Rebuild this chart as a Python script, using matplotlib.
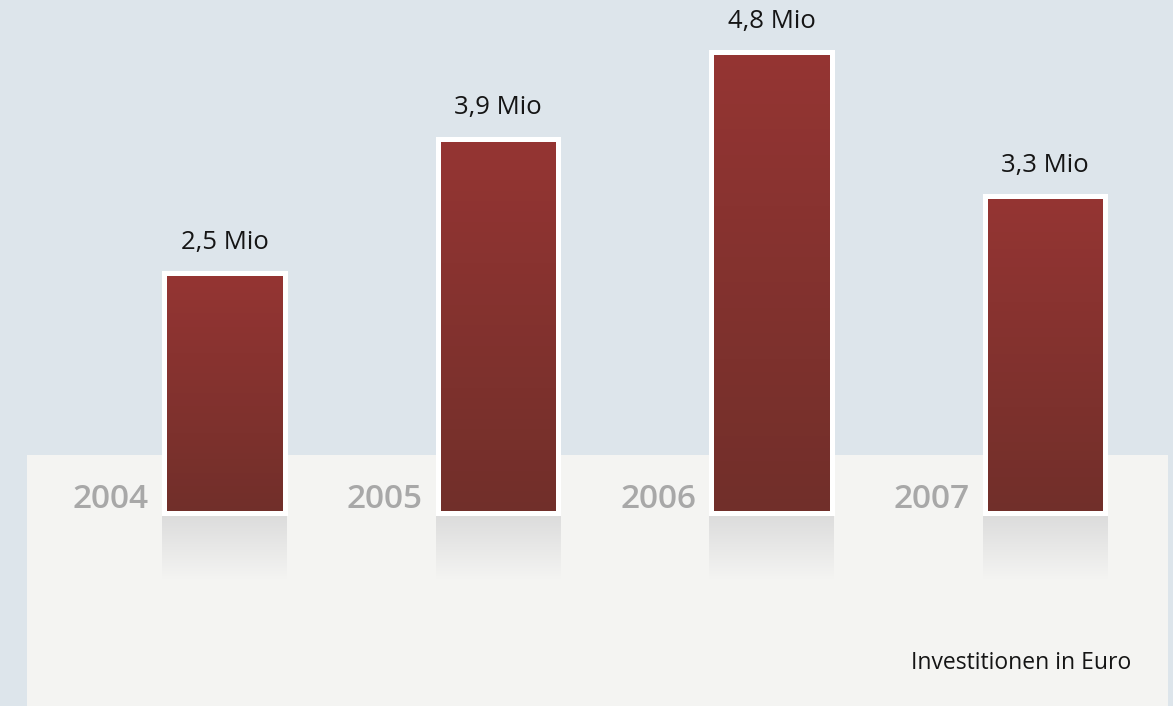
import numpy as np
import matplotlib
matplotlib.use('Agg')
from matplotlib import pyplot as plt
from matplotlib.patches import Rectangle
from matplotlib.colors import LinearSegmentedColormap

years = ['2004', '2005', '2006', '2007']
values = [2.5, 3.9, 4.8, 3.3]
labels = ['2,5 Mio', '3,9 Mio', '4,8 Mio', '3,3 Mio']
caption = 'Investitionen in Euro'

W, H = 1173, 706
plt.rcParams['font.family'] = ['Open Sans', 'DejaVu Sans']

fig = plt.figure(figsize=(W / 100, H / 100), dpi=100)
fig.patch.set_facecolor('#dde5eb')

ax = fig.add_axes([0, 0, 1, 1])
ax.set_facecolor('none')
ax.axis('off')
step = 273.5      # px between bar centres
ppm = 96.0        # px per Mio
x = np.arange(len(years))
bw = 120.5 / step
ow = 125 / step

# light panel in the lower part
ax.add_patch(Rectangle((27 / W, 0), (1168 - 27) / W, (706 - 455) / H,
                       transform=ax.transAxes, facecolor='#f4f4f2',
                       edgecolor='none', zorder=0))

bar_cmap = LinearSegmentedColormap.from_list('bar', ['#953533', '#712f2a'])
shadow_cmap = LinearSegmentedColormap.from_list('sh', ['#dcdcdc', '#f4f4f2'])
grad = np.linspace(0, 1, 256).reshape(-1, 1)

bars = ax.bar(x, values, width=bw, facecolor='none', edgecolor='white',
              linewidth=3.6, zorder=4)
for xi, v in zip(x, values):
    ax.imshow(grad, cmap=bar_cmap, aspect='auto', zorder=3,
              extent=(xi - bw / 2, xi + bw / 2, 0, v), origin='upper')
    # reflection/shadow under the bar
    ax.imshow(grad, cmap=shadow_cmap, aspect='auto', zorder=2,
              extent=(xi - ow / 2, xi + ow / 2, -66 / ppm, -3 / ppm), origin='upper')

for xi, v, lab, yr in zip(x, values, labels, years):
    ax.text(xi, v + 31 / ppm, lab, ha='center', va='center', fontsize=18.5,
            color='#151515')
    ax.text(xi - ow / 2 - 13 / step, 14 / ppm, yr, ha='right', va='center',
            fontsize=24, color='#a8a8a8', fontweight='semibold')

ax.set_xlim(-224.5 / step, (W - 224.5) / step)
ax.set_ylim(-(H - 513) / ppm, 513 / ppm)

ax.text(1131 / W, 1 - 663 / H, caption, ha='right', va='center', fontsize=16.5,
        color='#151515', transform=ax.transAxes)

fig.savefig('out.png', dpi=100, facecolor=fig.get_facecolor())
